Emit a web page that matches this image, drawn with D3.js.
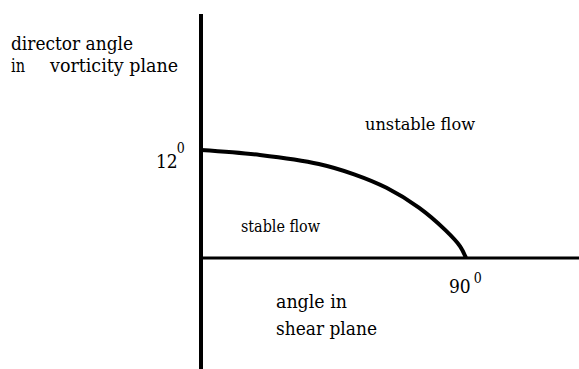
<!DOCTYPE html>
<html>
<head>
<meta charset="utf-8">
<script src="https://cdn.jsdelivr.net/npm/d3@7"></script>
<style>
  html, body { margin: 0; padding: 0; background: #fff; }
  svg { display: block; }
</style>
</head>
<body>
<svg id="chart" width="579" height="369"></svg>
<script>
// Boundary curve: director angle in vorticity plane (deg) vs angle in shear plane (deg)
const shearAngle     = [0, 20, 40, 52, 63, 74, 83, 88, 90];
const vorticityAngle = [12, 11.45, 10.45, 9.3, 7.8, 5.6, 3.1, 1.3, 0];
const xTickLabel = "90";
const yTickLabel = "12";
const xTickValue = 90;
const yTickValue = 12;
const yAxisTitle = ["director angle", "in", "vorticity plane"];
const xAxisTitle = ["angle in", "shear plane"];
const regionLabels = ["unstable flow", "stable flow"];

const FONT = "'DejaVu Serif Condensed', 'DejaVu Serif', serif";
const svg = d3.select("#chart").style("font-family", FONT);
const W = 579, H = 369;

const x = d3.scaleLinear().domain([0, 90]).range([201, 466]);
const y = d3.scaleLinear().domain([0, 12]).range([258, 150]);

// axes lines
svg.append("line")
  .attr("x1", x(0)).attr("x2", x(0))
  .attr("y1", 14).attr("y2", H)
  .attr("stroke", "#000").attr("stroke-width", 4);
svg.append("line")
  .attr("x1", x(0) - 2).attr("x2", W)
  .attr("y1", y(0)).attr("y2", y(0))
  .attr("stroke", "#000").attr("stroke-width", 3);

// boundary curve
const pts = shearAngle.map((d, i) => [d, vorticityAngle[i]]);
svg.append("path")
  .datum(pts)
  .attr("d", d3.line().x(d => x(d[0])).y(d => y(d[1])).curve(d3.curveCatmullRom.alpha(0.5)))
  .attr("fill", "none")
  .attr("stroke", "#000")
  .attr("stroke-width", 4);

function txt(s, px, py, size, len) {
  const t = svg.append("text")
    .attr("x", px).attr("y", py)
    .attr("font-family", FONT)
    .attr("font-size", size)
    .attr("fill", "#000")
    .text(s);
  if (len) t.attr("textLength", len).attr("lengthAdjust", "spacingAndGlyphs");
  return t;
}

function degLabel(s, px, py, gap, supDy, len) {
  const t = svg.append("text")
    .attr("x", px).attr("y", py)
    .attr("font-family", FONT)
    .attr("fill", "#000");
  t.append("tspan").attr("font-size", 19).text(s);
  t.append("tspan").attr("font-size", 14).attr("dx", gap).attr("dy", supDy).text("0");
  return t;
}

// y tick label 12°
degLabel(yTickLabel, x(0) - 45, y(yTickValue) + 18, -1, -15);
// x tick label 90°
degLabel(xTickLabel, x(xTickValue) - 17, y(0) + 35, 3, -10);

// y axis title
txt(yAxisTitle[0], 11, 50, 18, 122);
txt(yAxisTitle[1], 11, 72, 18, 14);
txt(yAxisTitle[2], 50, 72, 18, 128);

// x axis title
txt(xAxisTitle[0], 276, 308, 19, 71);
txt(xAxisTitle[1], 276, 335, 19, 101);

// region labels
txt(regionLabels[0], 365, 130, 17, 110);
txt(regionLabels[1], 241, 232, 17, 79);
</script>
</body>
</html>
